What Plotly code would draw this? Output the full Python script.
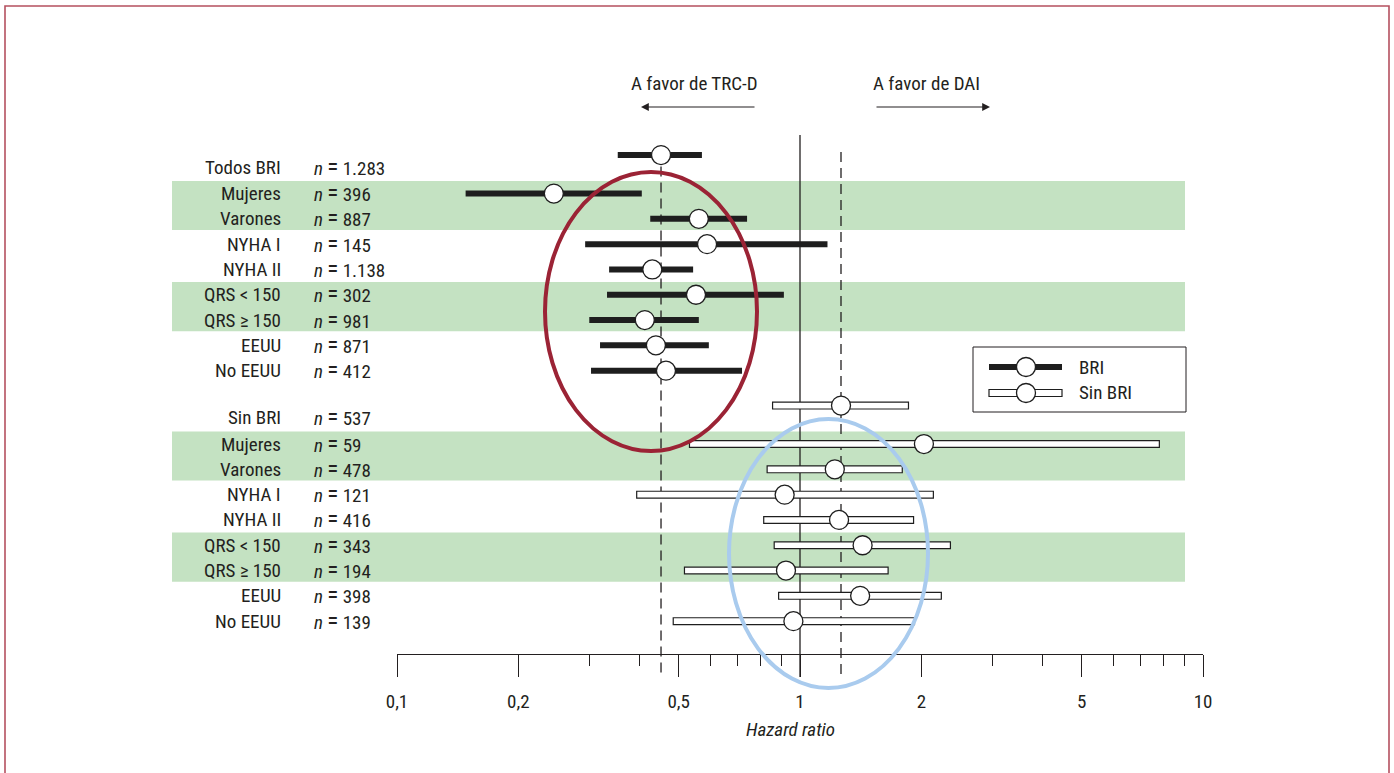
import plotly.graph_objects as go

# ---------------- data ----------------
bri_labels = ["Todos BRI", "Mujeres", "Varones", "NYHA I", "NYHA II",
              "QRS < 150", "QRS ≥ 150", "EEUU", "No EEUU"]
bri_n = ["1.283", "396", "887", "145", "1.138", "302", "981", "871", "412"]
bri_hr = [0.452, 0.245, 0.561, 0.588, 0.430, 0.552, 0.412, 0.439, 0.465]
bri_lo = [0.353, 0.148, 0.425, 0.293, 0.336, 0.332, 0.300, 0.319, 0.303]
bri_hi = [0.571, 0.405, 0.739, 1.170, 0.543, 0.912, 0.561, 0.594, 0.718]

sin_labels = ["Sin BRI", "Mujeres", "Varones", "NYHA I", "NYHA II",
              "QRS < 150", "QRS ≥ 150", "EEUU", "No EEUU"]
sin_n = ["537", "59", "478", "121", "416", "343", "194", "398", "139"]
sin_hr = [1.264, 2.03, 1.22, 0.916, 1.25, 1.43, 0.923, 1.41, 0.963]
sin_lo = [0.852, 0.530, 0.826, 0.392, 0.810, 0.860, 0.515, 0.882, 0.483]
sin_hi = [1.865, 7.82, 1.80, 2.15, 1.92, 2.37, 1.66, 2.25, 1.93]

tick_vals = [0.1, 0.2, 0.5, 1, 2, 5, 10]
tick_text = ["0,1", "0,2", "0,5", "1", "2", "5", "10"]
minor_vals = [0.3, 0.4, 0.6, 0.7, 0.8, 0.9, 3, 4, 6, 7, 8, 9]

# ---------------- layout helpers ----------------
W, H = 1394, 773
ML, MR, MT, MB = 397, 191, 0, 93
PW, PH = W - ML - MR, H - MT - MB
ROW = 25.3          # px per row
Y0PX = 167          # px of first label row
AXIS_PX = 654       # px of axis line


def u(px):  # px (vertical) -> y units
    return (px - Y0PX) / ROW


def PX(px):
    return (px - ML) / PW


def PY(py):
    return 1 - (py - MT) / PH


FONT = "Liberation Sans Narrow, Roboto Condensed, Arial Narrow, Liberation Sans, sans-serif"
TXT = "#231f20"
GREEN = "#c4e2c2"
FS = 19

# row positions
group_start = [0.0, 9.9]
sub_off = 1.05
rows = []
for g in group_start:
    rows.append([g] + [g + sub_off + k for k in range(8)])
overall_shift = -0.47

fig = go.Figure()

# green bands
shapes = []
for r in rows:
    for a, b in [(1, 2), (5, 6)]:
        shapes.append(dict(type="rect", xref="paper", yref="y",
                           x0=PX(172), x1=PX(1185), y0=r[a] - 0.5, y1=r[b] + 0.44,
                           fillcolor=GREEN, line=dict(width=0), layer="below"))


def line_xy(lo, hi, ys, shrink=1.0):
    xs, yy = [], []
    for a, b, y in zip(lo, hi, ys):
        xs += [a * shrink, b / shrink, None]
        yy += [y, y, None]
    return xs, yy


ys_bri = [rows[0][0] + overall_shift] + rows[0][1:]
ys_sin = [rows[1][0] + overall_shift] + rows[1][1:]

# vertical reference lines
top_solid = u(135)
bottom = u(677)
fig.add_trace(go.Scatter(x=[1, 1], y=[top_solid, bottom], mode="lines",
                         line=dict(color=TXT, width=1.3), hoverinfo="skip", showlegend=False))
fig.add_trace(go.Scatter(x=[bri_hr[0], bri_hr[0]], y=[ys_bri[0] + 0.45, bottom], mode="lines",
                         line=dict(color=TXT, width=1.3, dash="10px,6px"), hoverinfo="skip", showlegend=False))
fig.add_trace(go.Scatter(x=[sin_hr[0], sin_hr[0]], y=[u(152), bottom], mode="lines",
                         line=dict(color=TXT, width=1.3, dash="10px,6px"), hoverinfo="skip", showlegend=False))

# BRI bars
x, y = line_xy(bri_lo, bri_hi, ys_bri)
fig.add_trace(go.Scatter(x=x, y=y, mode="lines", line=dict(color="#1e1e1e", width=6),
                         hoverinfo="skip", showlegend=False))
# Sin BRI bars (outlined white)
x, y = line_xy(sin_lo, sin_hi, ys_sin)
fig.add_trace(go.Scatter(x=x, y=y, mode="lines", line=dict(color="#1e1e1e", width=8),
                         hoverinfo="skip", showlegend=False))
shr = 10 ** (1.2 / 403)
x, y = line_xy(sin_lo, sin_hi, ys_sin, shrink=shr)
fig.add_trace(go.Scatter(x=x, y=y, mode="lines", line=dict(color="white", width=5.6),
                         hoverinfo="skip", showlegend=False))
# markers
fig.add_trace(go.Scatter(x=bri_hr + sin_hr, y=ys_bri + ys_sin, mode="markers",
                         marker=dict(symbol="circle", size=19, color="white",
                                     line=dict(color="#1e1e1e", width=1.3)),
                         hoverinfo="x", showlegend=False))

# labels
ann = []
for labels, ns, rr in [(bri_labels, bri_n, rows[0]), (sin_labels, sin_n, rows[1])]:
    for lab, n, yv in zip(labels, ns, rr):
        ann.append(dict(xref="paper", yref="y", x=PX(283), y=yv, text=lab,
                        xanchor="right", yanchor="middle", showarrow=False,
                        font=dict(family=FONT, size=FS, color=TXT)))
        ann.append(dict(xref="paper", yref="y", x=PX(312), y=yv,
                        text="<i>n</i> <span style='font-size:23px'>=</span> " + n,
                        xanchor="left", yanchor="middle", showarrow=False,
                        font=dict(family=FONT, size=FS, color=TXT)))

# top direction texts and arrows
ann.append(dict(xref="paper", yref="paper", x=PX(694), y=PY(83), text="A favor de TRC-D",
                showarrow=False, xanchor="center", yanchor="middle",
                font=dict(family=FONT, size=FS, color=TXT)))
ann.append(dict(xref="paper", yref="paper", x=PX(926), y=PY(83), text="A favor de DAI",
                showarrow=False, xanchor="center", yanchor="middle",
                font=dict(family=FONT, size=FS, color=TXT)))
ann.append(dict(xref="paper", yref="paper", x=PX(641), y=PY(107), ax=115, ay=0, text="",
                showarrow=True, arrowhead=2, arrowsize=1.3, arrowwidth=1.2, arrowcolor=TXT))
ann.append(dict(xref="paper", yref="paper", x=PX(990), y=PY(107), ax=-115, ay=0, text="",
                showarrow=True, arrowhead=2, arrowsize=1.3, arrowwidth=1.2, arrowcolor=TXT))
# axis title
ann.append(dict(xref="paper", yref="paper", x=PX(790), y=PY(729), text="<i>Hazard ratio</i>",
                showarrow=False, xanchor="center", yanchor="middle",
                font=dict(family=FONT, size=FS, color=TXT)))
# legend texts
ann.append(dict(xref="paper", yref="paper", x=PX(1077), y=PY(367), text="BRI",
                showarrow=False, xanchor="left", yanchor="middle",
                font=dict(family=FONT, size=FS, color=TXT)))
ann.append(dict(xref="paper", yref="paper", x=PX(1077), y=PY(393), text="Sin BRI",
                showarrow=False, xanchor="left", yanchor="middle",
                font=dict(family=FONT, size=FS, color=TXT)))

# legend box and glyphs
shapes.append(dict(type="rect", xref="paper", yref="paper", x0=PX(973), x1=PX(1186),
                   y0=PY(347), y1=PY(412), line=dict(color=TXT, width=1), fillcolor="white",
                   layer="above"))
shapes.append(dict(type="line", xref="paper", yref="paper", x0=PX(989), x1=PX(1062),
                   y0=PY(367), y1=PY(367), line=dict(color="#1e1e1e", width=6), layer="above"))
shapes.append(dict(type="rect", xref="paper", yref="paper", x0=PX(989), x1=PX(1062),
                   ysizemode="pixel", yanchor=PY(393), y0=-3.5, y1=3.5,
                   line=dict(color="#1e1e1e", width=1.2), fillcolor="white", layer="above"))
for cy in (367, 393):
    shapes.append(dict(type="circle", xref="paper", yref="paper",
                       xsizemode="pixel", ysizemode="pixel",
                       xanchor=PX(1026), yanchor=PY(cy), x0=-9.5, x1=9.5, y0=-9.5, y1=9.5,
                       line=dict(color="#1e1e1e", width=1.3), fillcolor="white", layer="above"))

# ellipses
shapes.append(dict(type="circle", xref="paper", yref="paper", x0=PX(545), x1=PX(757),
                   y0=PY(172), y1=PY(451), line=dict(color="#9b2335", width=4), layer="above"))
shapes.append(dict(type="circle", xref="paper", yref="paper", x0=PX(729), x1=PX(928),
                   y0=PY(419), y1=PY(688), line=dict(color="#a9cbee", width=4), layer="above"))

# outer frame
shapes.append(dict(type="rect", xref="paper", yref="paper", x0=PX(5), x1=PX(1389),
                   y0=PY(6), y1=PY(820), line=dict(color="#b5505f", width=1.6), layer="above"))

fig.update_layout(
    width=W, height=H,
    margin=dict(l=ML, r=MR, t=MT, b=MB, pad=0),
    paper_bgcolor="white", plot_bgcolor="rgba(0,0,0,0)",
    shapes=shapes, annotations=ann, showlegend=False,
    xaxis=dict(type="log", range=[-1, 1], anchor="free", position=(PH - AXIS_PX) / PH,
               showline=True, linecolor=TXT, linewidth=1.3, showgrid=False, zeroline=False,
               ticks="outside", ticklen=22, tickwidth=1.3, tickcolor=TXT,
               tickmode="array", tickvals=tick_vals, ticktext=tick_text,
               ticklabelstandoff=8,
               tickfont=dict(family=FONT, size=FS, color=TXT),
               minor=dict(tickmode="array", tickvals=minor_vals, ticks="outside",
                          ticklen=11, tickwidth=1.2, tickcolor=TXT, showgrid=False)),
    yaxis=dict(range=[u(MT + PH), u(MT)], visible=False, showgrid=False, zeroline=False),
)

fig.write_html("out.html", config={"displayModeBar": False},
               post_script="document.body.style.margin='0px';")
